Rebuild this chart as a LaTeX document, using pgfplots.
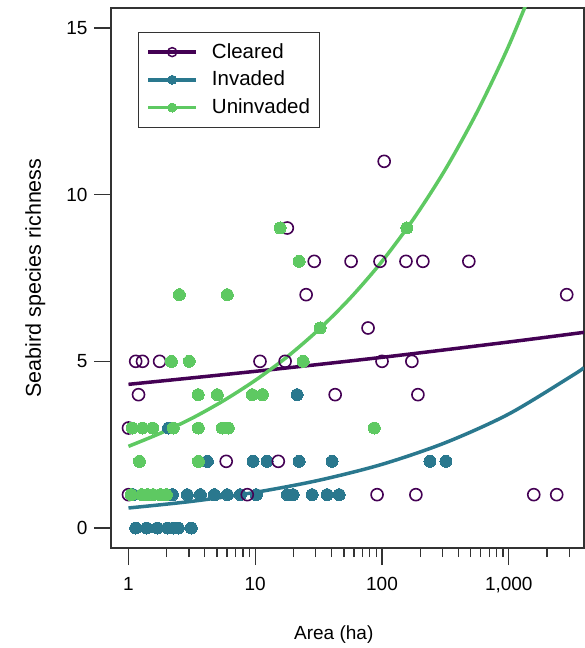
\documentclass[border=0pt]{standalone}
\usepackage{fontspec}
\setmainfont{Liberation Sans}
\usepackage{pgfplots}
\pgfplotsset{compat=1.18}
\definecolor{cleared}{HTML}{440154}
\definecolor{invaded}{HTML}{2A788E}
\definecolor{uninvaded}{HTML}{5EC962}
\definecolor{axisgray}{HTML}{333333}
\begin{document}
\fontsize{19}{22}\selectfont
\begin{tikzpicture}
\useasboundingbox (-111pt,-100pt) rectangle (474pt,548pt);
\begin{axis}[
    scale only axis, width=473pt, height=540pt,
    xmode=log, xmin=0.728, xmax=3920, ymin=-0.6, ymax=15.6,
    axis line style={axisgray, line width=1.3pt},
    tick style={axisgray, line width=1.3pt},
    tick align=outside, tick pos=left,
    major tick length=17pt, minor tick length=9pt,
    xtick={1,10,100,1000}, xticklabels={1,10,100,{1,000}},
    minor xtick={2,3,4,5,6,7,8,9,20,30,40,50,60,70,80,90,200,300,400,500,600,700,800,900,2000,3000},
    ytick={0,5,10,15},
    /pgf/number format/assume math mode=true,
    ticklabel style={font=\fontsize{19}{22}\selectfont},
    xticklabel style={yshift=-6pt},
    xlabel={Area (ha)}, ylabel={Seabird species richness},
    xlabel style={at={(axis description cs:0.471,-0.170)}, anchor=base, font=\fontsize{19}{22}\selectfont},
    ylabel style={at={(axis description cs:-0.148,0.5)}, anchor=base, font=\fontsize{21.5}{24}\selectfont},
    legend style={at={(0.057,0.956)}, anchor=north west, draw=axisgray,
        line width=1pt, font=\fontsize{20.5}{24}\selectfont,
        inner xsep=8pt, inner ysep=9pt, row sep=6pt,
        /tikz/every odd column/.append style={column sep=12pt}},
    legend cell align=left,
    legend image code/.code={\draw[mark repeat=2,mark phase=2,#1]
        plot coordinates {(0pt,0pt)(24pt,0pt)(48pt,0pt)};},
]
\addlegendimage{cleared, line width=3.5pt, mark=o, mark size=4.5pt, mark options={line width=1.5pt, fill=white}}
\addlegendimage{invaded, line width=3.5pt, mark=*, mark size=4.5pt, mark options={line width=0pt}}
\addlegendimage{uninvaded, line width=3.5pt, mark=*, mark size=4.5pt, mark options={line width=0pt}}

% invaded
\addplot[only marks, mark=*, mark size=6pt, color=invaded, mark options={line width=0pt}] coordinates {
(1.14,0)(1.39,0)(1.69,0)(2.03,0)(2.26,0)(2.47,0)(3.13,0)
(1.09,1)(2.22,1)(2.91,1)(3.69,1)(4.76,1)(6.02,1)(7.62,1)(10.2,1)(17.9,1)(19.9,1)(28.1,1)(36.9,1)(45.9,1)
(4.19,2)(9.6,2)(12.4,2)(22.2,2)(40.4,2)(239,2)(319,2)
(2.07,3)
(21.4,4)
};
% cleared
\addplot[only marks, mark=o, mark size=6pt, color=cleared, mark options={line width=1.6pt}] coordinates {
(1.0,1)(8.65,1)(91.4,1)(185,1)(1574,1)(2388,1)
(5.9,2)(15.2,2)
(1.0,3)
(1.2,4)(42.7,4)(192,4)
(1.14,5)(1.29,5)(1.76,5)(10.9,5)(17.2,5)(100,5)(172,5)
(77.6,6)
(25.2,7)(2864,7)
(29.2,8)(57,8)(96.4,8)(154.5,8)(210,8)(484,8)
(17.9,9)
(104,11)
};
% uninvaded
\addplot[only marks, mark=*, mark size=6pt, color=uninvaded, mark options={line width=0pt}] coordinates {
(1.05,1)(1.27,1)(1.41,1)(1.57,1)(1.79,1)(1.99,1)
(1.22,2)(3.56,2)
(1.07,3)(1.29,3)(1.55,3)(2.26,3)(3.56,3)(5.5,3)(6.13,3)(87,3)
(3.55,4)(5.02,4)(9.47,4)(11.4,4)
(2.18,5)(3.02,5)(23.9,5)
(32.5,6)
(2.52,7)(6.02,7)
(22.2,8)
(15.7,9)(157,9)
};

% fitted curves
\addplot[cleared, line width=3.5pt, smooth] coordinates {
(1,4.31)(10,4.70)(100,5.12)(1000,5.58)(3920,5.87)};
\addplot[invaded, line width=3.5pt, smooth] coordinates {
(1,0.60)(3.162,0.80)(10,1.07)(31.62,1.43)(100,1.91)(316.2,2.56)(1000,3.42)(3162,4.57)(3920,4.81)};
\addplot[uninvaded, line width=3.5pt, smooth] coordinates {
(1,2.45)(1.778,2.84)(3.162,3.29)(5.623,3.82)(10,4.43)(17.78,5.13)(31.62,5.95)(56.23,6.90)(100,8.00)(177.8,9.28)(316.2,10.76)(562.3,12.48)(1000,14.47)(1778,16.78)};

\legend{Cleared, Invaded, Uninvaded}
\end{axis}
\end{tikzpicture}
\end{document}
